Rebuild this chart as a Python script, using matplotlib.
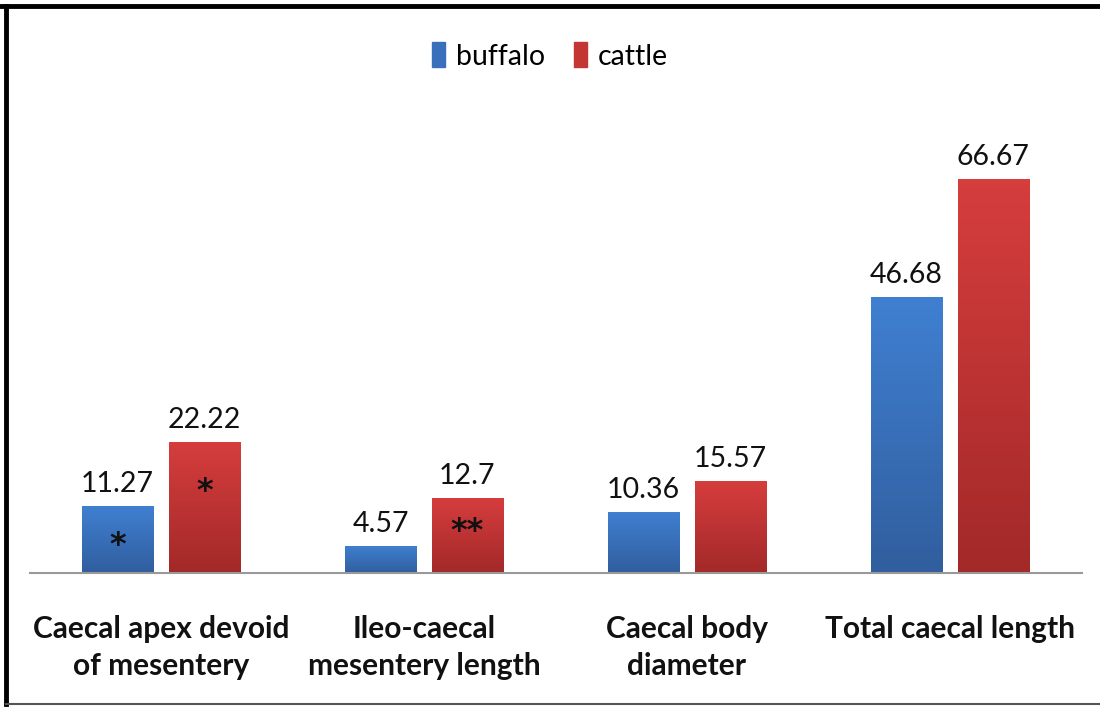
import numpy as np
import matplotlib.pyplot as plt
from matplotlib.patches import Rectangle
from matplotlib.lines import Line2D

categories = ["Caecal apex devoid\nof mesentery", "Ileo-caecal\nmesentery length",
              "Caecal body\ndiameter", "Total caecal length"]
buffalo = [11.27, 4.57, 10.36, 46.68]
cattle = [22.22, 12.7, 15.57, 66.67]
buffalo_marks = ["*", "", "", ""]
cattle_marks = ["*", "**", "", ""]

FONT = ["Lato", "DejaVu Sans"]
plt.rcParams['font.family'] = FONT

fig = plt.figure(figsize=(11, 7.07), dpi=100)
ax = fig.add_axes([29.5/1100, 134/707, 1052/1100, 473/707])

x = np.arange(len(categories))
w = 0.27
off = 0.165

def grad_bars(bars, top, bottom):
    cm = np.array([top, bottom])
    for b in bars:
        bx, by = b.get_x(), b.get_y()
        bw, bh = b.get_width(), b.get_height()
        g = np.linspace(0, 1, 64)[:, None, None]
        img = cm[0][None, None, :] * (1 - g) + cm[1][None, None, :] * g
        im = ax.imshow(img, extent=[bx, bx + bw, by, by + bh], origin="upper",
                       aspect="auto", zorder=2)
        im.set_clip_path(b)

b1 = ax.bar(x - off, buffalo, w, color="#3a70bb", label="buffalo", zorder=1)
b2 = ax.bar(x + off, cattle, w, color="#c33633", label="cattle", zorder=1)
grad_bars(b1, [0.25, 0.50, 0.82], [0.19, 0.37, 0.62])
grad_bars(b2, [0.84, 0.24, 0.24], [0.64, 0.16, 0.16])

for xi, v in zip(x - off, buffalo):
    ax.text(xi, v + 1.5, f"{v:g}", ha="center", va="bottom", fontsize=20.5, color="#111111")
for xi, v in zip(x + off, cattle):
    ax.text(xi, v + 1.5, f"{v:g}", ha="center", va="bottom", fontsize=20.5, color="#111111")

# significance marks inside bars
for xi, v, m in zip(x - off, buffalo, buffalo_marks):
    if m:
        ax.text(xi, 4.6, m, ha="center", va="center", fontsize=23, fontweight="bold",
                family="DejaVu Sans", color="#111111")
for xi, v, m, yy in zip(x + off, cattle, cattle_marks, [13.8, 7.1, 0, 0]):
    if m:
        ax.text(xi, yy, m, ha="center", va="center", fontsize=23, fontweight="bold",
                family="DejaVu Sans", color="#111111")

ax.set_xlim(-0.5, 3.5)
ax.set_ylim(0, 80)
for s in ["top", "right", "left"]:
    ax.spines[s].set_visible(False)
ax.spines["bottom"].set_color("#999999")
ax.spines["bottom"].set_linewidth(1.5)
ax.set_yticks([])
ax.set_xticks(x)
ax.set_xticklabels(categories, fontsize=21.5, fontweight="bold", linespacing=1.4,
                   color="#111111")
ax.tick_params(axis="x", length=0, pad=30)
ax.patch.set_visible(False)

handles = [Rectangle((0, 0), 1, 1, color="#3a70bb"), Rectangle((0, 0), 1, 1, color="#c33633")]
fig.legend(handles, ["buffalo", "cattle"], loc="center", bbox_to_anchor=(0.5, 1 - 56/707),
           ncol=2, frameon=False, fontsize=20.5, handlelength=0.45, handleheight=0.95,
           handletextpad=0.4, columnspacing=1.0)

# frame around the picture
fig.add_artist(Line2D([0, 1], [1 - 5.5/707, 1 - 5.5/707], color="black", lw=3.5))
fig.add_artist(Line2D([6/1100, 6/1100], [1 - 5.5/707, 3/707], color="black", lw=3.5))
fig.add_artist(Line2D([6/1100, 1], [3/707, 3/707], color="#555555", lw=1.5))

fig.savefig("out.png", dpi=100, facecolor="white")
